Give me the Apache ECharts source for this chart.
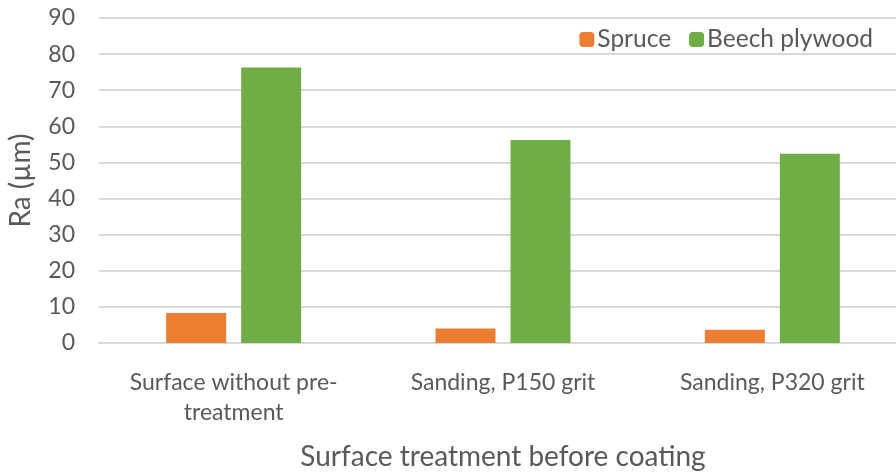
<!DOCTYPE html>
<html>
<head>
<meta charset="utf-8">
<script src="https://cdn.jsdelivr.net/npm/echarts@6/dist/echarts.min.js"></script>
<style>
  html, body { margin: 0; padding: 0; background: #fff; overflow: hidden; width: 896px; height: 472px; }
  /* the plot runs a little past the right edge of the frame */
  #chart { width: 907px; height: 472px; }
</style>
</head>
<body>
<div id="chart"></div>
<script>
// Surface roughness Ra by pre-treatment
const categories = ['Surface without pre-\ntreatment', 'Sanding, P150 grit', 'Sanding, P320 grit'];
const spruce = [8.3, 4.0, 3.7];
const beechPlywood = [76.3, 56.2, 52.4];
const yTicks = { min: 0, max: 90, interval: 10 };

const FONT = 'Lato';
const TEXT = '#595959';
const GRID = '#d9d9d9';

const chart = echarts.init(document.getElementById('chart'), null, { renderer: 'canvas' });
chart.setOption({
  animation: false,
  backgroundColor: '#ffffff',
  textStyle: { fontFamily: FONT },
  legend: {
    top: 22,
    right: 29,
    itemWidth: 15,
    itemHeight: 15,
    itemGap: 18,
    textStyle: { fontFamily: FONT, fontSize: 24.5, color: TEXT, padding: [0, 0, 0, -2] },
    data: ['Spruce', 'Beech plywood']
  },
  grid: { left: 99, right: 0, top: 18, bottom: 129, containLabel: false, outerBoundsMode: 'none' },
  xAxis: {
    type: 'category',
    data: categories,
    name: 'Surface treatment before coating',
    nameLocation: 'middle',
    nameGap: 100,
    nameTextStyle: { fontFamily: FONT, fontSize: 28, color: TEXT },
    axisLine: { lineStyle: { color: GRID, width: 2 } },
    axisTick: { show: false },
    axisLabel: { interval: 0, hideOverlap: false, fontFamily: FONT, fontSize: 23, color: TEXT, margin: 25, lineHeight: 30 }
  },
  yAxis: {
    type: 'value',
    min: yTicks.min,
    max: yTicks.max,
    interval: yTicks.interval,
    name: 'Ra (µm)',
    nameLocation: 'middle',
    nameGap: 64,
    nameTextStyle: { fontFamily: FONT, fontSize: 28, color: TEXT },
    axisLine: { show: false },
    axisTick: { show: false },
    axisLabel: { fontFamily: FONT, fontSize: 23, color: TEXT, margin: 24 },
    splitLine: { lineStyle: { color: GRID, width: 2 } }
  },
  series: [
    {
      name: 'Spruce',
      type: 'bar',
      data: spruce,
      barWidth: 60,
      barGap: '25%',
      itemStyle: { color: '#ED7D31' }
    },
    {
      name: 'Beech plywood',
      type: 'bar',
      data: beechPlywood,
      barWidth: 60,
      barGap: '25%',
      itemStyle: { color: '#70AD47' }
    }
  ]
});
</script>
</body>
</html>
